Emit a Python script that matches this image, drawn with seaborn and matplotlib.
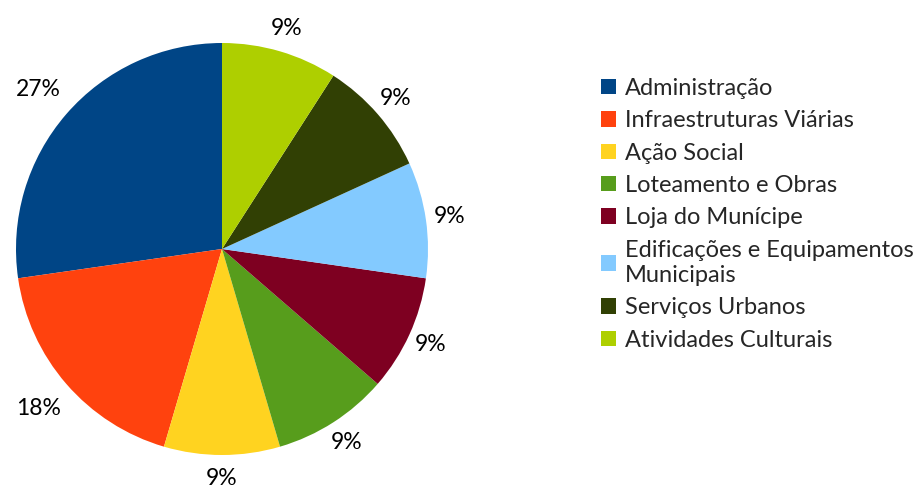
import matplotlib
matplotlib.use("Agg")
import matplotlib.pyplot as plt
import seaborn as sns

# shares per area (27% / 18% / 9% each)
areas = ["Administração", "Infraestruturas Viárias", "Ação Social", "Loteamento e Obras",
         "Loja do Munícipe", "Edificações e Equipamentos\nMunicipais", "Serviços Urbanos",
         "Atividades Culturais"]
counts = [3, 2, 1, 1, 1, 1, 1, 1]
colors = ["#004586", "#ff420e", "#ffd320", "#579d1c", "#7e0021", "#83caff", "#314004", "#aecf00"]

sns.set_style("white")
plt.rcParams["font.family"] = ["Lato", "DejaVu Sans"]

fig = plt.figure(figsize=(9.15, 4.88), dpi=100)
ax = fig.add_axes([16 / 915, (488 - 455) / 488, 412 / 915, 412 / 488])

wedges, texts, autotexts = ax.pie(
    counts, colors=sns.color_palette(colors), startangle=90, counterclock=True,
    autopct="%.0f%%", pctdistance=1.115,
    textprops={"fontsize": 16.5, "color": "#000000"},
    wedgeprops={"linewidth": 0},
)
# longer labels sit a bit further out
for t in autotexts:
    if len(t.get_text()) > 2:
        x, y = t.get_position()
        t.set_position((x * 1.18 / 1.115, y * 1.18 / 1.115))

ax.set_xlim(-1, 1)
ax.set_ylim(-1, 1)
ax.set_aspect("auto")

leg = fig.legend(wedges, areas, loc="upper left", bbox_to_anchor=(601 / 915, 1 - 78 / 488),
                 frameon=False, fontsize=17, borderpad=0, borderaxespad=0,
                 handlelength=0.63, handleheight=0.63, handletextpad=0.38, labelspacing=0.48)
for t in leg.get_texts():
    t.set_linespacing(1.25)

fig.savefig("out.png", dpi=100, facecolor="white")
